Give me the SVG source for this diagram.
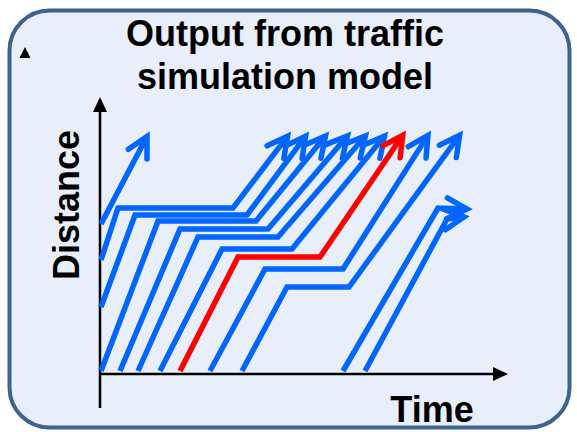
<svg xmlns="http://www.w3.org/2000/svg" width="577" height="432" viewBox="0 0 577 432">
  <style>
    .lbl { font-family: "Liberation Sans", Arial, sans-serif; font-weight: bold; font-size: 36px; fill: #000000; }
    .trj { fill: none; stroke: #0066FF; stroke-width: 5.5; stroke-linejoin: miter; stroke-linecap: butt; marker-end: url(#arrB); }
    .trj.red { stroke: #FF0000; marker-end: url(#arrR); }
    .axis { fill: none; stroke: #000000; stroke-width: 2.5; }
  </style>
  <defs>
    <marker id="arrB" markerUnits="userSpaceOnUse" orient="auto" viewBox="-30 -20 40 40" markerWidth="40" markerHeight="40" refX="0" refY="0" overflow="visible">
      <path d="M-20,-10.5 L0,0 L-20,10.5" fill="none" stroke="#0066FF" stroke-width="5.5" stroke-linejoin="miter" stroke-linecap="round"/>
    </marker>
    <marker id="arrR" markerUnits="userSpaceOnUse" orient="auto" viewBox="-30 -20 40 40" markerWidth="40" markerHeight="40" refX="0" refY="0" overflow="visible">
      <path d="M-20,-10.5 L0,0 L-20,10.5" fill="none" stroke="#FF0000" stroke-width="5.5" stroke-linejoin="miter" stroke-linecap="round"/>
    </marker>
  </defs>

  <g id="frame">
    <rect x="9.5" y="10.5" width="560" height="417" rx="40" ry="40" fill="#E8EFFA" stroke="#3F628F" stroke-width="4"/>
    <polygon points="19.5,58 25,47 30.5,58" fill="#000000"/>
  </g>

  <g id="title">
    <text class="lbl" x="285" y="46" text-anchor="middle">Output from traffic</text>
    <text class="lbl" x="285" y="89" text-anchor="middle">simulation model</text>
  </g>

  <g id="axes">
    <line class="axis" x1="100" y1="408" x2="100" y2="110"/>
    <polygon points="100,97 93,112 107,112" fill="#000000"/>
    <line class="axis" x1="99" y1="374" x2="495" y2="374"/>
    <polygon points="508,374 493,367 493,381" fill="#000000"/>
    <text class="lbl" transform="translate(79,205) rotate(-90)" text-anchor="middle">Distance</text>
    <text class="lbl" x="432" y="422" text-anchor="middle">Time</text>
  </g>

  <g id="trajectories">
    <path class="trj" d="M101,224 L147,136.5"/>
    <path class="trj" d="M101,260 L118,208 L233,208 L287.6,136.2"/>
    <path class="trj" d="M101,307 L135,215 L247,215 L305.6,136.2"/>
    <path class="trj" d="M101,371 L158,221 L256,221 L325.5,136.1"/>
    <path class="trj" d="M120,371 L180,229 L268,229 L347.4,136"/>
    <path class="trj" d="M138,371 L198,237 L278,237 L365.4,136"/>
    <path class="trj" d="M160,371 L222,249 L292,249 L384.5,136.1"/>
    <path class="trj red" d="M180,371 L238,257 L320,257 L402.7,135.3"/>
    <path class="trj" d="M210,371 L265,269 L343,269 L427.9,135.4"/>
    <path class="trj" d="M242,371 L287,287 L349,287 L459.6,135.2"/>
    <path class="trj" d="M343,371 L438,208 L467,209"/>
    <path class="trj" d="M365,371 L447,219 L464,217"/>
  </g>
</svg>
